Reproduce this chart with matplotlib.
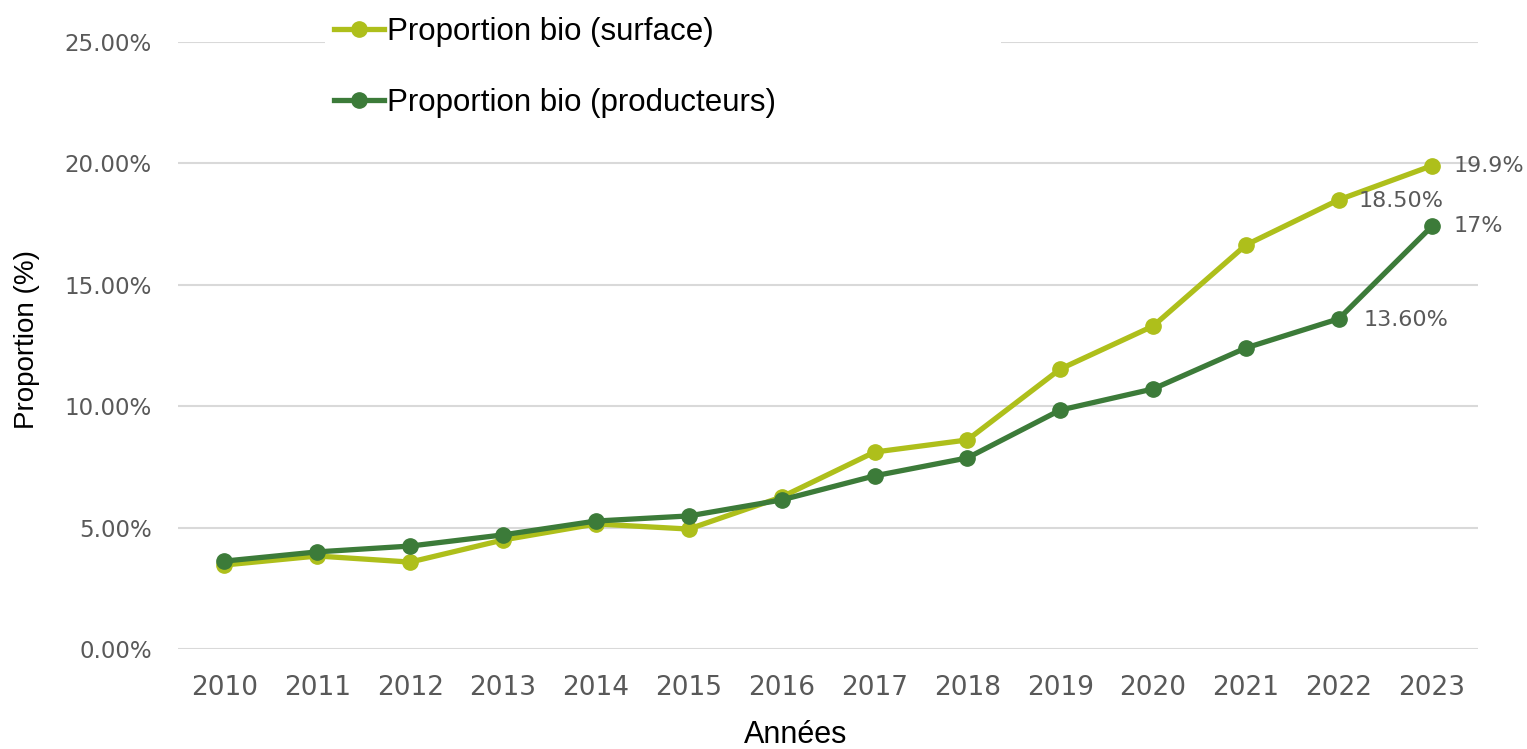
import matplotlib
matplotlib.use("Agg")
import matplotlib.pyplot as plt
from matplotlib.ticker import FuncFormatter, MultipleLocator

years = ["2010", "2011", "2012", "2013", "2014", "2015", "2016",
         "2017", "2018", "2019", "2020", "2021", "2022", "2023"]
surface = [3.46, 3.83, 3.58, 4.49, 5.15, 4.94, 6.26, 8.11, 8.61, 11.53, 13.30, 16.64, 18.5, 19.9]
producteurs = [3.62, 4.00, 4.24, 4.70, 5.27, 5.48, 6.14, 7.13, 7.87, 9.84, 10.71, 12.40, 13.6, 17.4]
series_names = ["Proportion bio (surface)", "Proportion bio (producteurs)"]
annotations = [  # (series index, point index, text)
    (0, 13, "19.9%"),
    (0, 12, "18.50%"),
    (1, 13, "17%"),
    (1, 12, "13.60%"),
]

c_surface = "#AEBF1B"
c_prod = "#3C7B39"
gray = "#595959"

fig = plt.figure(figsize=(15.27, 7.49), dpi=100)
ax = fig.add_axes([0.1166, 0.1335, 0.8514, 0.8105])

x = list(range(len(years)))
ax.plot(x, surface, color=c_surface, lw=3.8, marker="o", ms=11, label=series_names[0], zorder=3)
ax.plot(x, producteurs, color=c_prod, lw=3.8, marker="o", ms=11, label=series_names[1], zorder=4)

ax.set_xlim(-0.5, len(years) - 0.5)
ax.set_ylim(0, 25)
ax.yaxis.set_major_locator(MultipleLocator(5))
ax.yaxis.set_major_formatter(FuncFormatter(lambda v, p: f"{v:.2f}%"))
ax.set_xticks(x)
ax.set_xticklabels(years)
ax.grid(axis="y", color="#d9d9d9", lw=1.5, zorder=0)
ax.set_axisbelow(True)
for s in ax.spines.values():
    s.set_visible(False)
ax.tick_params(axis="both", length=0, colors=gray)
ax.tick_params(axis="x", labelsize=19, pad=19)
ax.tick_params(axis="y", labelsize=16.5, pad=19)
for lab in ax.get_xticklabels() + ax.get_yticklabels():
    lab.set_fontfamily("DejaVu Sans")

ax.set_xlabel("Années", fontsize=22, family="Liberation Sans", color="black")
ax.xaxis.set_label_coords((796 - 178) / 1300, -(720 - 649) / 607)
ax.set_ylabel("Proportion (%)", fontsize=20, family="Liberation Sans", color="black")
ax.yaxis.set_label_coords(-(178 - 40) / 1300, (649 - 340) / 607)

data = [surface, producteurs]
offsets = {(0, 13): (16, 0), (0, 12): (14, -1), (1, 13): (16, 0), (1, 12): (18, -1)}
for si, pi, txt in annotations:
    dx, dy = offsets[(si, pi)]
    ax.annotate(txt, (x[pi], data[si][pi]), xytext=(dx, dy), textcoords="offset points",
                fontsize=16, color=gray, family="DejaVu Sans", va="center", ha="left")

leg = ax.legend(loc="upper left", bbox_to_anchor=(0.113, 1.056, 0.52, 0.0), mode="expand",
                prop={"family": "Liberation Sans", "size": 22.5},
                frameon=True, facecolor="white", edgecolor="white", framealpha=1,
                handlelength=1.6, handletextpad=0.1, labelspacing=1.3, borderpad=0.3,
                borderaxespad=0)
leg.get_frame().set_linewidth(0)
leg.set_zorder(5)

fig.savefig("out.png", dpi=100)
